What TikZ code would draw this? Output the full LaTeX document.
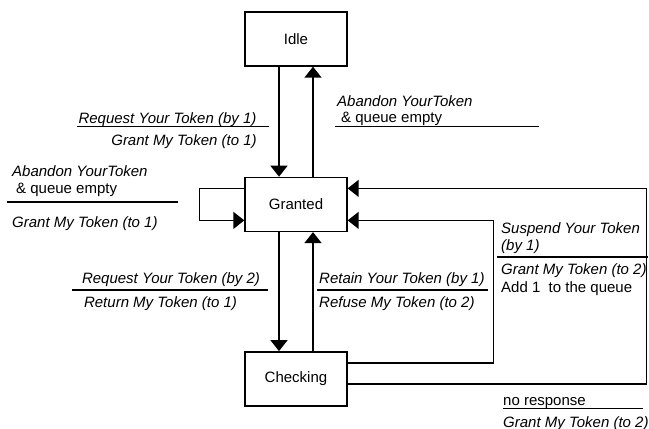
\documentclass[tikz,border=0pt]{standalone}
\usepackage{fontspec}
\setmainfont{Liberation Sans}
\usetikzlibrary{arrows.meta,positioning}

\begin{document}
\begin{tikzpicture}[x=1pt,y=-1pt,node distance=110pt,>={Triangle[length=11pt,width=17pt]},
state/.style={draw,line width=1.4pt,minimum width=102pt,minimum height=54pt,font=\fontsize{15}{17}\selectfont},
trans/.style={line width=1.5pt},
cond/.style={font=\fontsize{15}{17}\selectfont\itshape,inner sep=0pt},
note/.style={font=\fontsize{15}{17}\selectfont,inner sep=0pt},
rule/.style={line width=1.2pt}]
\useasboundingbox (0,0) rectangle (649,429);
% states
\node[state] (idle) at (296,39) {Idle};
\node[state,below=of idle] (granted) {Granted};
\node[state,below=119pt of granted] (checking) {Checking};
% transitions
\draw[trans,->] ([xshift=-17pt]idle.south) -- ([xshift=-17pt]granted.north);
\draw[trans,->] ([xshift=17pt]granted.north) -- ([xshift=17pt]idle.south);
\draw[trans,->] ([xshift=-17pt]granted.south) -- ([xshift=-17pt]checking.north);
\draw[trans,->] ([xshift=17pt]checking.north) -- ([xshift=17pt]granted.south);
\draw[trans,->] ([yshift=16pt]granted.west) -- ++(-45,0) |- ([yshift=-16pt]granted.west);
\draw[trans,->] ([yshift=16pt]checking.east) -- ++(146,0) |- ([yshift=-16pt]granted.east);
\draw[trans,->] ([yshift=-5pt]checking.east) -- ++(299,0) |- ([yshift=16pt]granted.east);
% idle -> granted
\node[cond,anchor=base] (reqone) at (167.5,123) {Request Your Token (by 1)};
\draw[rule] (77,126.5) -- (269,126.5);
\node[cond,anchor=base] (grantone) at (184,145) {Grant My Token (to 1)};
% granted -> idle
\node[cond,anchor=base west] (abandon) at (337,106) {Abandon YourToken};
\node[note,anchor=base west] (empty) at (341,122) {\& queue empty};
\draw[rule] (335,126.5) -- (539,126.5);
% granted -> granted
\node[cond,anchor=base west] (abandonloop) at (12,176) {Abandon YourToken};
\node[note,anchor=base west] (emptyloop) at (16,193) {\& queue empty};
\draw[rule] (7,202) -- (178,202);
\node[cond,anchor=base west] (grantloop) at (12,227) {Grant My Token (to 1)};
% granted -> checking
\node[cond,anchor=base] (reqtwo) at (171,283) {Request Your Token (by 2)};
\draw[rule] (72,290) -- (268,290);
\node[cond,anchor=base] (ret) at (160.5,307) {Return My Token (to 1)};
% checking -> granted
\node[cond,anchor=base west] (retain) at (319,283) {Retain Your Token (by 1)};
\draw[rule] (317,290) -- (488,290);
\node[cond,anchor=base west] (refuse) at (319,307) {Refuse My Token (to 2)};
% suspend
\node[cond,anchor=base west] (suspend) at (501,233) {Suspend Your Token};
\node[cond,anchor=base west] (byone) at (501,250) {(by 1)};
\draw[rule] (497,257) -- (648,257);
\node[cond,anchor=base west] (granttwo) at (501,274) {Grant My Token (to 2)};
\node[note,anchor=base west] (queue) at (501,292) {Add 1~ to the queue};
% no response
\node[note,anchor=base west] (noresp) at (503,405) {no response};
\draw[rule] (503,408.5) -- (643,408.5);
\node[cond,anchor=base west] (grantlast) at (503,427) {Grant My Token (to 2)};
\end{tikzpicture}
\end{document}
